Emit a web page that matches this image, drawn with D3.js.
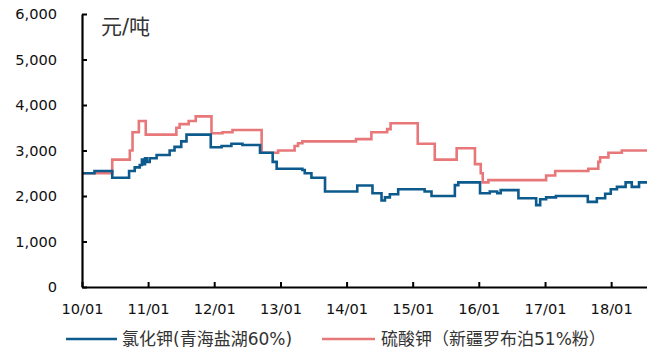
<!DOCTYPE html>
<html><head><meta charset="utf-8">
<script src="https://cdn.jsdelivr.net/npm/d3@7"></script>
<style>
body{margin:0;background:#fff;}
svg{display:block;}
.axis text{font-family:"DejaVu Sans",sans-serif;font-size:14.6px;fill:#111;}
</style></head><body>
<svg id="c" width="647" height="349"></svg>
<script>
const seriesNames = ["氯化钾(青海盐湖60%)", "硫酸钾（新疆罗布泊51%粉）"];
const unitLabel = "元/吨";
const yTicks = [0, 1000, 2000, 3000, 4000, 5000, 6000];
const startDate = "2010-01-01";
const endDate = "2018-07-18";

// change points [date, price]; step-after
const kclDates = ["2010-01-01","2010-03-11","2010-06-17","2010-09-18","2010-10-19","2010-11-16","2010-11-28","2010-12-05","2010-12-15","2010-12-25","2011-01-10","2011-02-17","2011-04-30","2011-05-27","2011-07-03","2011-08-01","2011-12-13","2012-02-11","2012-04-05","2012-06-05","2012-09-10","2012-11-19","2012-12-11","2013-05-02","2013-05-15","2013-06-21","2013-09-04","2014-03-01","2014-05-24","2014-07-13","2014-08-01","2014-08-28","2014-10-13","2015-03-08","2015-04-15","2015-08-22","2015-09-10","2016-01-08","2016-03-02","2016-04-12","2016-05-01","2016-08-07","2016-11-13","2016-12-05","2017-01-07","2017-03-02","2017-08-25","2017-10-14","2017-11-29","2017-12-30","2018-02-02","2018-03-22","2018-04-25","2018-06-04","2018-07-18"];
const kclValues = [2500,2550,2400,2550,2630,2680,2800,2700,2830,2750,2830,2900,3000,3080,3200,3350,3070,3100,3150,3120,2950,2750,2600,2570,2500,2400,2100,2230,2060,1900,1970,2040,2150,2100,2000,2240,2300,2060,2100,2060,2130,1950,1800,1930,1970,2000,1870,1950,2050,2150,2200,2300,2200,2300,2300];

const sopDates = ["2010-01-01","2010-06-17","2010-09-22","2010-10-07","2010-11-11","2010-12-19","2011-06-06","2011-06-24","2011-08-13","2011-09-21","2011-12-17","2012-02-16","2012-04-11","2012-09-19","2012-12-19","2013-03-20","2013-04-08","2013-05-02","2014-02-22","2014-05-18","2014-08-13","2014-09-01","2015-01-29","2015-05-03","2015-09-01","2015-12-11","2016-01-12","2016-01-23","2016-02-23","2017-01-07","2017-02-26","2017-08-28","2017-10-22","2017-11-01","2017-12-17","2018-03-01","2018-07-18"];
const sopValues = [2500,2800,3000,3400,3650,3350,3500,3580,3650,3750,3380,3400,3450,2950,3000,3100,3160,3200,3250,3400,3470,3600,3150,2800,3050,2700,2500,2300,2350,2450,2550,2600,2750,2850,2950,3000,3000];

const colors = ["#0d5a8d", "#e8777a"];
const parse = d3.timeParse("%Y-%m-%d");
const svg = d3.select("#c");
const m = {l:82, r:0, t:14, b:62};
const W = 647, H = 349;
const x = d3.scaleTime().domain([parse(startDate), parse(endDate)]).range([m.l, W - m.r]);
const y = d3.scaleLinear().domain([0, 6000]).range([H - m.b, m.t]);

const series = [
  kclDates.map((d,i)=>({d:parse(d), v:kclValues[i]})),
  sopDates.map((d,i)=>({d:parse(d), v:sopValues[i]}))
];
const line = d3.line().x(p=>x(p.d)).y(p=>y(p.v)).curve(d3.curveStepAfter);
[1,0].forEach(i=>{
  svg.append("path").datum(series[i]).attr("d", line)
    .attr("fill","none").attr("stroke", colors[i]).attr("stroke-width", 2.6)
    .attr("stroke-linejoin","miter");
});

const yAxis = d3.axisLeft(y).tickValues(yTicks).tickFormat(d3.format(","))
  .tickSizeInner(-5).tickSizeOuter(0).tickPadding(25);
svg.append("g").attr("class","axis").attr("transform",`translate(${m.l},0)`).call(yAxis);
const xAxis = d3.axisBottom(x).ticks(d3.timeYear.every(1)).tickFormat(d3.timeFormat("%y/%m"))
  .tickSizeInner(-5).tickSizeOuter(0).tickPadding(17);
svg.append("g").attr("class","axis").attr("transform",`translate(0,${H - m.b})`).call(xAxis);
svg.selectAll(".axis .domain").attr("stroke","#000").attr("stroke-width",2.2);
svg.selectAll(".axis .tick line").attr("stroke","#000").attr("stroke-width",2);

svg.append("text").attr("x",101).attr("y",34).text(unitLabel)
  .attr("font-family","'DejaVu Sans','Noto Sans CJK SC',sans-serif").attr("font-size",21).attr("fill","#333");

// legend
const lg = [{x1:66,x2:117,tx:122},{x1:322,x2:375,tx:381}];
lg.forEach((p,i)=>{
  svg.append("line").attr("x1",p.x1).attr("x2",p.x2).attr("y1",339).attr("y2",339)
    .attr("stroke",colors[i]).attr("stroke-width",2.6);
  svg.append("text").attr("x",p.tx).attr("y",339).attr("dy","0.35em").text(seriesNames[i])
    .attr("font-family","'DejaVu Sans','Noto Sans CJK SC',sans-serif").attr("font-size",17).attr("fill","#333");
});
</script></body></html>
